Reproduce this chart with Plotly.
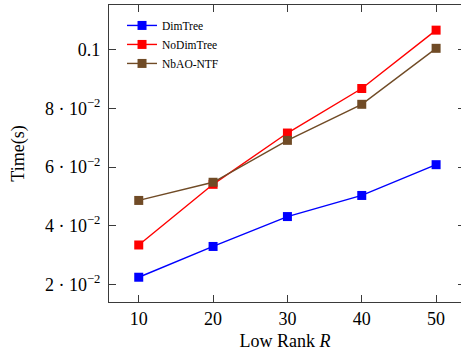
import plotly.graph_objects as go

ranks = [10, 20, 30, 40, 50]
dimtree = [0.0224, 0.0329, 0.0431, 0.0503, 0.0608]
nodimtree = [0.0334, 0.0541, 0.0716, 0.0868, 0.1067]
nbao_ntf = [0.0486, 0.0548, 0.0691, 0.0814, 0.1005]

ytick_vals = [0.02, 0.04, 0.06, 0.08, 0.1]
ytick_text = ["2 · 10<sup>−2</sup>", "4 · 10<sup>−2</sup>", "6 · 10<sup>−2</sup>",
              "8 · 10<sup>−2</sup>", "0.1"]
xtick_vals = [10, 20, 30, 40, 50]

FONT = "Liberation Serif"
AX = "#3a3a3a"
FS = 18

fig = go.Figure()
series = [("DimTree", dimtree, "#0000ff"),
          ("NoDimTree", nodimtree, "#ff0000"),
          ("NbAO-NTF", nbao_ntf, "#704b26")]
for name, vals, col in series:
    fig.add_trace(go.Scatter(
        x=ranks, y=vals, name=name, mode="lines+markers",
        line=dict(color=col, width=1.4),
        marker=dict(symbol="square", size=9, color=col),
    ))

# invisible helper trace for right-side ticks
fig.add_trace(go.Scatter(x=[ranks[0]], y=[dimtree[0]], yaxis="y2",
                         showlegend=False, hoverinfo="skip",
                         mode="markers", marker=dict(opacity=0)))

fig.update_layout(
    width=461, height=358,
    margin=dict(l=109, r=0, t=5, b=56),
    paper_bgcolor="white", plot_bgcolor="white",
    font=dict(family=FONT, color="black", size=FS),
    showlegend=True,
    legend=dict(x=0.037, y=0.98, xanchor="left", yanchor="top",
                bgcolor="rgba(255,255,255,0)", borderwidth=0,
                font=dict(size=11.5, family=FONT), itemwidth=30,
                tracegroupgap=0),
    xaxis=dict(range=[6, 53.35], tickvals=xtick_vals, ticks="inside",
               ticklen=7, tickcolor=AX, showline=True, linecolor=AX,
               linewidth=1.2, mirror="ticks", showgrid=False, zeroline=False,
               title=dict(text="Low Rank <i>R</i>", standoff=6,
                          font=dict(size=FS)),
               tickfont=dict(size=FS)),
    yaxis=dict(range=[0.01395, 0.11528], tickvals=ytick_vals,
               ticktext=ytick_text, ticks="inside", ticklen=7, tickcolor=AX,
               showline=True, linecolor=AX, linewidth=1.2, showgrid=False,
               zeroline=False, title=dict(text="Time(s)", standoff=15,
                                          font=dict(size=FS)),
               tickfont=dict(size=FS), ticklabelstandoff=4),
    yaxis2=dict(range=[0.01395, 0.11528], tickvals=ytick_vals,
                showticklabels=False, ticks="inside", ticklen=3,
                tickcolor=AX, showline=False, showgrid=False, zeroline=False,
                overlaying="y", side="right", anchor="free", position=1),
)

fig.write_html("out.html")
